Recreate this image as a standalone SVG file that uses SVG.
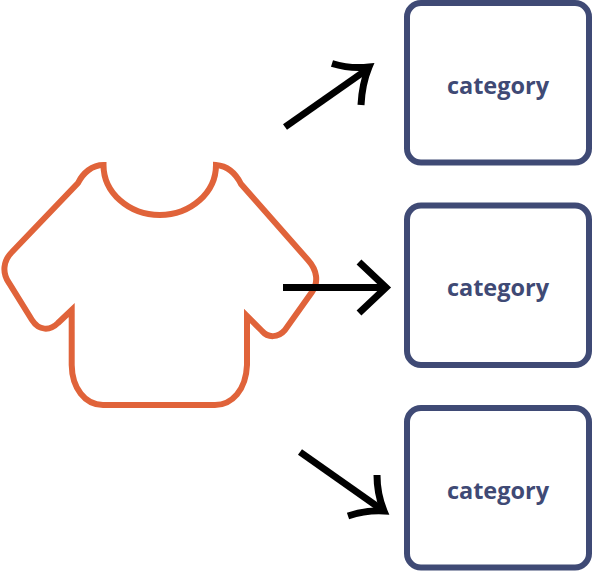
<svg xmlns="http://www.w3.org/2000/svg" width="593" height="588" viewBox="0 0 593 588">
<style>
.box{fill:#fff;stroke:#3f4a75;stroke-width:6}
.lbl{font-family:"Open Sans","Noto Sans",sans-serif;font-weight:700;font-size:23.500px;fill:#3f4a75;text-anchor:middle}
.ar{fill:none;stroke:#000;stroke-width:7}
</style>
<rect width="593" height="588" fill="#fff"/>
<g id="shirt"><path d="M103.500 165 A56.250 50 0 0 0 216 165 C228 166 236 174 241 184 L308 260 C317 270 319 282 312 292 L285 330 C278 338 268 338 262 331 L247 316 L247 365 C246 390 232 405 215 405 L103 405 C85 405 72 388 71.700 365 L71.700 310 L58 323 C50 331 39 331 32 320 L9 283 C2 273 3 261 12 252 L78 183 C83 173 92 165 103.500 165 Z" fill="none" stroke="#e0633a" stroke-width="6" stroke-linejoin="miter"/></g>
<g id="connectors">
<g class="ar"><path d="M285 127 L367 69.500"/><path d="M332 63.500 Q350 69 369 67 Q362 84 361 105"/></g>
<g class="ar"><path d="M283 287.500 L384 287.500"/><path d="M359 262 L386 287.500 L359 313"/></g>
<g class="ar"><path d="M300 452 L381 509"/><path d="M377 475 Q377 494 384 511 Q366 510 348 516"/></g>
</g>
<g id="node-1"><rect class="box" x="407" y="3" width="182" height="159.500" rx="14"/><text class="lbl" x="498" y="94">category</text></g>
<g id="node-2"><rect class="box" x="407" y="205.500" width="182" height="159.500" rx="14"/><text class="lbl" x="498" y="296">category</text></g>
<g id="node-3"><rect class="box" x="407" y="408" width="182" height="159.500" rx="14"/><text class="lbl" x="498" y="499">category</text></g>
</svg>
